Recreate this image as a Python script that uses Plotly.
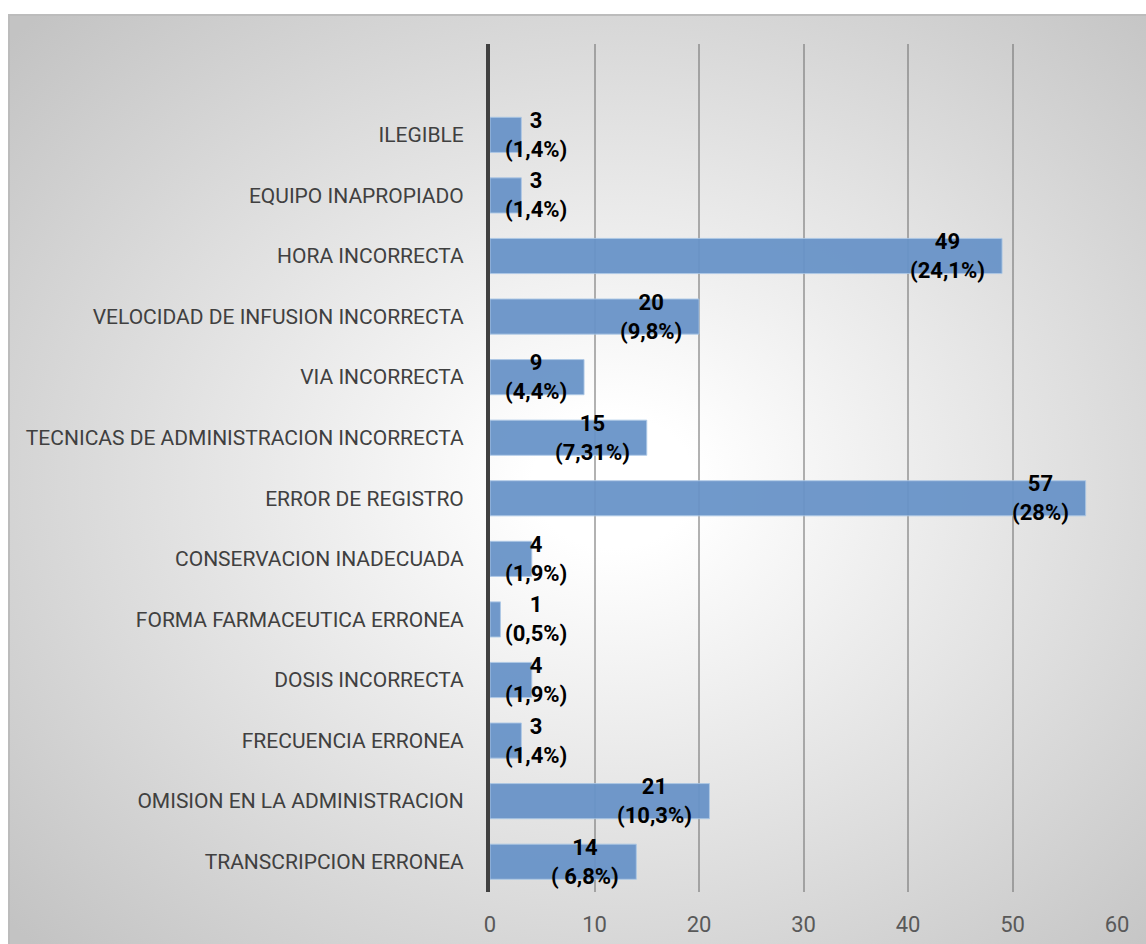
import base64
import plotly.graph_objects as go

# ---- data (bottom to top) ----
categories = [
    "TRANSCRIPCION ERRONEA",
    "OMISION EN LA ADMINISTRACION",
    "FRECUENCIA ERRONEA",
    "DOSIS INCORRECTA",
    "FORMA FARMACEUTICA ERRONEA",
    "CONSERVACION INADECUADA",
    "ERROR DE REGISTRO",
    "TECNICAS DE ADMINISTRACION INCORRECTA",
    "VIA INCORRECTA",
    "VELOCIDAD DE INFUSION INCORRECTA",
    "HORA INCORRECTA",
    "EQUIPO INAPROPIADO",
    "ILEGIBLE",
]
values = [14, 21, 3, 4, 1, 4, 57, 15, 9, 20, 49, 3, 3]
percent_labels = ["( 6,8%)", "(10,3%)", "(1,4%)", "(1,9%)", "(0,5%)", "(1,9%)",
                  "(28%)", "(7,31%)", "(4,4%)", "(9,8%)", "(24,1%)", "(1,4%)", "(1,4%)"]
x_ticks = [0, 10, 20, 30, 40, 50, 60]

W, H = 1146, 944
FONT = "Roboto, Liberation Sans, Arial, sans-serif"

# ---- background: radial gradient box (chart area) ----
bx0, by0, bx1, by1 = 8, 14, 1150, 950
bw, bh = bx1 - bx0, by1 - by0
svg = f'''<svg xmlns="http://www.w3.org/2000/svg" width="{bw}" height="{bh}" viewBox="0 0 {bw} {bh}" preserveAspectRatio="none">
<defs><radialGradient id="g" cx="0.53" cy="0.5" r="0.71">
<stop offset="0.1" stop-color="#ffffff"/><stop offset="1" stop-color="#c3c3c3"/>
</radialGradient></defs>
<rect x="1" y="1" width="{bw-2}" height="{bh-2}" fill="url(#g)" stroke="#bcbcbc" stroke-width="2"/>
</svg>'''
src = "data:image/svg+xml;base64," + base64.b64encode(svg.encode()).decode()

fig = go.Figure()
fig.add_trace(go.Bar(
    x=values, y=categories, orientation="h",
    width=0.58,
    marker=dict(color="#6893c8", opacity=0.94,
                line=dict(color="rgba(170,198,230,0.9)", width=1)),
    hoverinfo="skip",
))

# data labels: right-aligned near the bar end, with a floor for short bars
for cat, v, p in zip(categories, values, percent_labels):
    fig.add_annotation(
        x=max(v, 9), y=cat, xref="x", yref="y",
        text=f"{v}<br>{p}", showarrow=False,
        xanchor="right", yanchor="middle", align="center", xshift=-15,
        font=dict(family=FONT, size=22, color="#000000", weight="bold"),
    )

fig.update_layout(
    width=W, height=H,
    margin=dict(l=0, r=0, t=0, b=0),
    paper_bgcolor="white", plot_bgcolor="rgba(0,0,0,0)",
    showlegend=False,
    font=dict(family=FONT),
    images=[dict(source=src, xref="paper", yref="paper",
                 x=bx0 / W, y=1 - by0 / H, sizex=bw / W, sizey=bh / H,
                 xanchor="left", yanchor="top", sizing="stretch", layer="below")],
    xaxis=dict(
        domain=[490 / W, 1117 / W], range=[0, 60], automargin=False,
        tickvals=x_ticks, ticktext=[str(t) for t in x_ticks],
        showgrid=True, gridcolor="rgba(115,115,115,0.55)", gridwidth=1.5,
        zeroline=False, showline=False,
        ticks="outside", ticklen=13, tickcolor="rgba(0,0,0,0)",
        tickfont=dict(family=FONT, size=22, color="#595959"),
        fixedrange=True,
    ),
    yaxis=dict(
        domain=[1 - 892 / H, 1 - 44 / H], automargin=False,
        type="category", categoryorder="array", categoryarray=categories,
        range=[-0.5, 13.5],
        showgrid=False, zeroline=False,
        showline=True, linecolor="#404040", linewidth=4,
        ticks="outside", ticklen=18, tickcolor="rgba(0,0,0,0)",
        tickfont=dict(family=FONT, size=21, color="#404040"),
        fixedrange=True,
    ),
)

fig.write_html("out.html", config={"displayModeBar": False})
